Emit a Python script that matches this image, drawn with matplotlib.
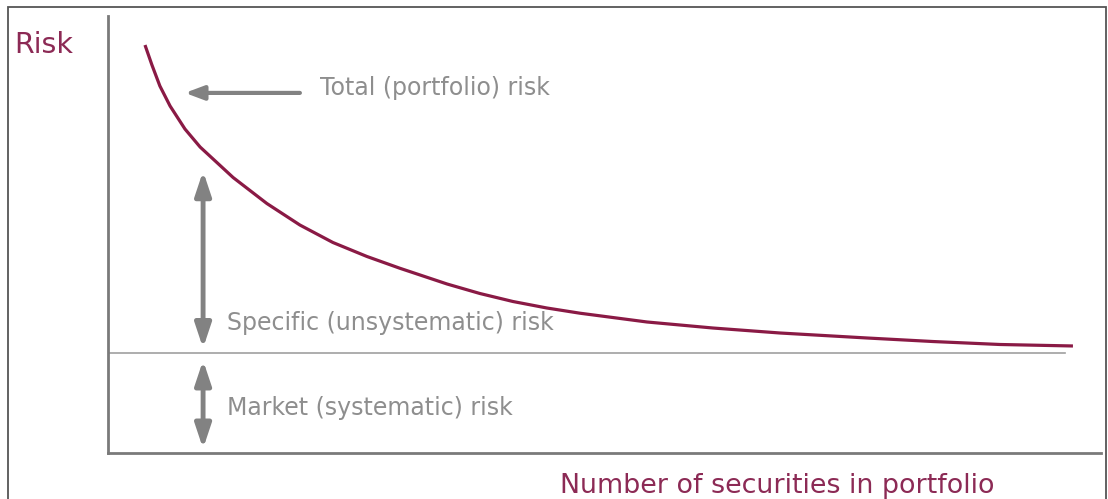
import matplotlib.pyplot as plt
from matplotlib.patches import Rectangle

# curve (x: number of securities, y: risk)
securities = [1.49, 1.77, 2.09, 2.50, 3.10, 3.71, 5.04, 6.40, 7.73, 9.06, 10.43, 11.76,
              13.66, 14.98, 16.31, 17.68, 19.01, 21.71, 24.37, 27.07, 30.57, 33.23, 35.93, 38.87]
total_risk = [93.36, 88.79, 83.98, 79.41, 74.14, 70.02, 63.04, 57.09, 52.17, 48.17, 44.97, 42.27,
              38.67, 36.50, 34.67, 33.18, 31.99, 29.98, 28.60, 27.46, 26.32, 25.51, 24.83, 24.49]
market_risk = 22.9
baseline_end = 38.55

labels = ['Total (portfolio) risk', 'Specific (unsystematic) risk', 'Market (systematic) risk']

maroon = '#8a1a45'
text_maroon = '#8c2a55'
grey = '#8e8e8e'
arrow_grey = '#828282'

fig = plt.figure(figsize=(11.08, 4.99), dpi=100)
ax = fig.add_axes([108 / 1108, 46 / 499, 993 / 1108, 437 / 499])
ax.set_xlim(0, 40)
ax.set_ylim(0, 100)

# outer frame (bottom edge cut off like the original)
fig.patches.append(Rectangle((8 / 1108, -0.05), 1098 / 1108, 1.05 - 7 / 499,
                             transform=fig.transFigure, fill=False,
                             edgecolor='#555555', linewidth=1.3))

for side in ['top', 'right']:
    ax.spines[side].set_visible(False)
for side in ['left', 'bottom']:
    ax.spines[side].set_color('#7a7a7a')
    ax.spines[side].set_linewidth(2.0)
ax.set_xticks([])
ax.set_yticks([])

# market risk line
ax.plot([0, baseline_end], [market_risk, market_risk], color='#a0a0a0', lw=1.2)

# total risk curve
ax.plot(securities, total_risk, color=maroon, lw=2.3, solid_capstyle='butt', solid_joinstyle='round')

# arrows
ax.annotate('', xy=(3.10, 82.4), xytext=(7.73, 82.4),
            arrowprops=dict(arrowstyle='-|>,head_length=0.8,head_width=0.3',
                            color=arrow_grey, lw=3, mutation_scale=14, shrinkA=0, shrinkB=0))
ax.annotate('', xy=(3.83, 64.5), xytext=(3.83, 24.0),
            arrowprops=dict(arrowstyle='<|-|>,head_length=0.9,head_width=0.3',
                            color=arrow_grey, lw=3.5, mutation_scale=16, shrinkA=0, shrinkB=0))
ax.annotate('', xy=(3.83, 21.2), xytext=(3.83, 1.0),
            arrowprops=dict(arrowstyle='<|-|>,head_length=0.9,head_width=0.3',
                            color=arrow_grey, lw=3.5, mutation_scale=16, shrinkA=0, shrinkB=0))

font = 'DejaVu Sans'
ax.text(8.54, 83.5, labels[0], color=grey, fontsize=17, family=font, va='center')
ax.text(4.80, 29.7, labels[1], color=grey, fontsize=17, family=font, va='center')
ax.text(4.80, 10.3, labels[2], color=grey, fontsize=17, family=font, va='center')

fig.text(14 / 1108, 1 - 45 / 499, 'Risk', color=text_maroon, fontsize=20.5,
         family=font, va='center')
fig.text(560 / 1108, 1 - 486 / 499, 'Number of securities in portfolio', color=text_maroon,
         fontsize=19.4, family=font, va='center')

fig.savefig('out.png', dpi=100)
